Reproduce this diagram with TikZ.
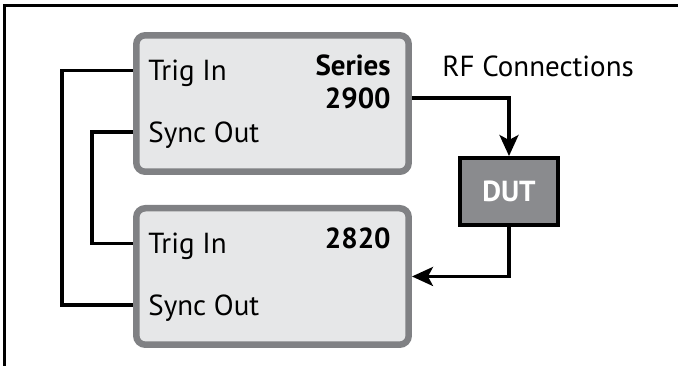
\documentclass[tikz,border=0pt]{standalone}
\usepackage{fontspec}
\setmainfont{PT Sans}
\usetikzlibrary{arrows.meta,positioning}
\definecolor{boxfill}{HTML}{E6E7E8}
\definecolor{boxline}{HTML}{808184}
\definecolor{dutfill}{HTML}{8A8B8E}
\tikzset{
  unit/.style = {
    draw=boxline, fill=boxfill, line width=0.13cm,
    rounded corners=0.18cm,
    minimum width=5.45cm, minimum height=2.73cm
  },
  lbl/.style = {
    anchor=west, inner sep=0pt,
    font=\fontsize{16.5}{20}\selectfont,
    text height=11.5pt, text depth=0pt
  },
  hdr/.style = {lbl, anchor=east, font=\fontsize{16.5}{20}\selectfont\bfseries},
  wire/.style = {line width=0.066cm, black}
}
\tikzset{>={Stealth[length=0.42cm,width=0.38cm,inset=0.1cm]}}

\begin{document}
\begin{tikzpicture}[x=0.02cm,y=-0.02cm]
  \useasboundingbox (0,0) rectangle (678,366);
  \draw[line width=0.06cm] (678,5.5) -- (4.5,5.5) -- (4.5,366);
  \node[unit] (box1) at (272.5,103.5) {};
  \node[unit,below=0.6cm of box1] (box2) {};
  \node[draw,line width=0.08cm,fill=dutfill,minimum width=1.96cm,minimum height=1.34cm,
        font=\fontsize{16.5}{20}\selectfont\bfseries,text=white] (dut) at (509,191.5) {DUT};
  \node[lbl,xshift=0.3cm,yshift=0.66cm]  (trig1) at (box1.west) {Trig In};
  \node[lbl,xshift=0.3cm,yshift=-0.57cm] (sync1) at (box1.west) {Sync Out};
  \node[lbl,xshift=0.3cm,yshift=0.66cm]  (trig2) at (box2.west) {Trig In};
  \node[lbl,xshift=0.3cm,yshift=-0.57cm] (sync2) at (box2.west) {Sync Out};
  \node[hdr,xshift=-0.42cm,yshift=-0.66cm] (ser) at (box1.north east) {Series};
  \node[hdr,yshift=-0.66cm] (num1) at (ser.east) {2900};
  \node[hdr,xshift=-0.42cm,yshift=-0.66cm] (num2) at (box2.north east) {2820};
  \node[lbl] (rf) at (442,66.5) {RF Connections};
  \draw[wire] (box1.west |- trig1) -- ++(-71,0) |- (box2.west |- sync2);
  \draw[wire] (box1.west |- sync1) -- ++(-41,0) |- (box2.west |- trig2);
  \draw[wire,->] (box1.east |- num1) -| (dut.north);
  \draw[wire,->] (dut.south) |- (box2.east);
\end{tikzpicture}
\end{document}
